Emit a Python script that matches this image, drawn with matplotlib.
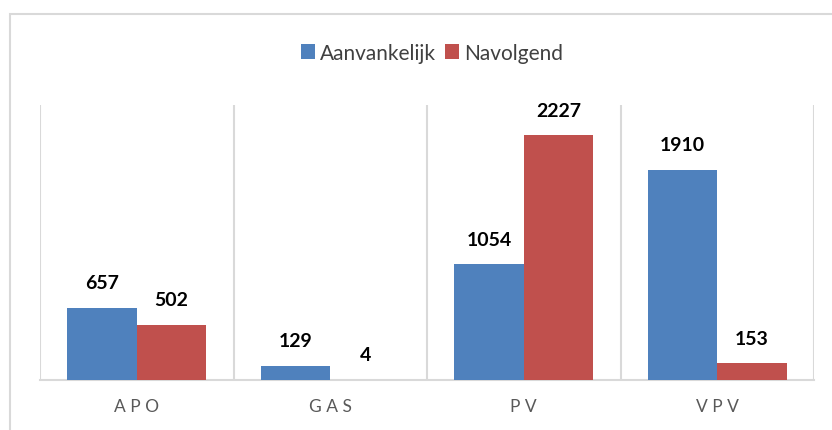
import numpy as np
import matplotlib.pyplot as plt
from matplotlib.patches import Rectangle

categories = ["APO", "GAS", "PV", "VPV"]
aanvankelijk = [657, 129, 1054, 1910]
navolgend = [502, 4, 2227, 153]
series_names = ["Aanvankelijk", "Navolgend"]

blue = "#4F81BD"
red = "#C0504D"
grid_gray = "#D9D9D9"

plt.rcParams["font.family"] = ["Lato", "DejaVu Sans"]

W, H = 832, 431
fig = plt.figure(figsize=(W / 100, H / 100), dpi=100)

# outer chart border (runs off the right and bottom edges)
fig.patches.append(Rectangle((10 / W, -0.1), 2, 1 - 15 / H + 0.1, transform=fig.transFigure,
                             fill=False, edgecolor=grid_gray, linewidth=1.5, zorder=0))

ax = fig.add_axes([40 / W, (H - 381) / H, (814 - 40) / W, (381 - 106) / H])

x = np.arange(len(categories))
bw = 0.36
b1 = ax.bar(x - bw / 2, aanvankelijk, bw, color=blue, label=series_names[0], zorder=3)
b2 = ax.bar(x + bw / 2, navolgend, bw, color=red, label=series_names[1], zorder=3)

for bars, vals in ((b1, aanvankelijk), (b2, navolgend)):
    for b, v in zip(bars, vals):
        ax.annotate(str(v), (b.get_x() + b.get_width() / 2, v), xytext=(0, 18),
                    textcoords="offset points", ha="center", va="center",
                    fontsize=14, fontweight="bold", color="black")

ax.set_xlim(-0.5, len(categories) - 0.5)
ax.set_ylim(0, 2500)

# separators between categories
for b in np.arange(len(categories) + 1) - 0.5:
    ax.axvline(b, color=grid_gray, linewidth=1.5, zorder=1)

for s in ["top", "left", "right"]:
    ax.spines[s].set_visible(False)
ax.spines["bottom"].set_color(grid_gray)
ax.spines["bottom"].set_linewidth(1.5)

ax.set_xticks(x)
ax.set_xticklabels([" ".join(c) for c in categories], fontsize=12.5, color="#595959")
ax.tick_params(axis="x", length=0, pad=13)
ax.set_yticks([])

fig.legend(handles=[b1, b2], labels=series_names, loc="center", bbox_to_anchor=(432 / W, 1 - 54 / H),
           ncol=2, frameon=False, fontsize=15, handlelength=0.7, handleheight=0.7,
           handletextpad=0.25, columnspacing=0.4, labelcolor="#404040")

fig.savefig("out.png", dpi=100, facecolor="white")
